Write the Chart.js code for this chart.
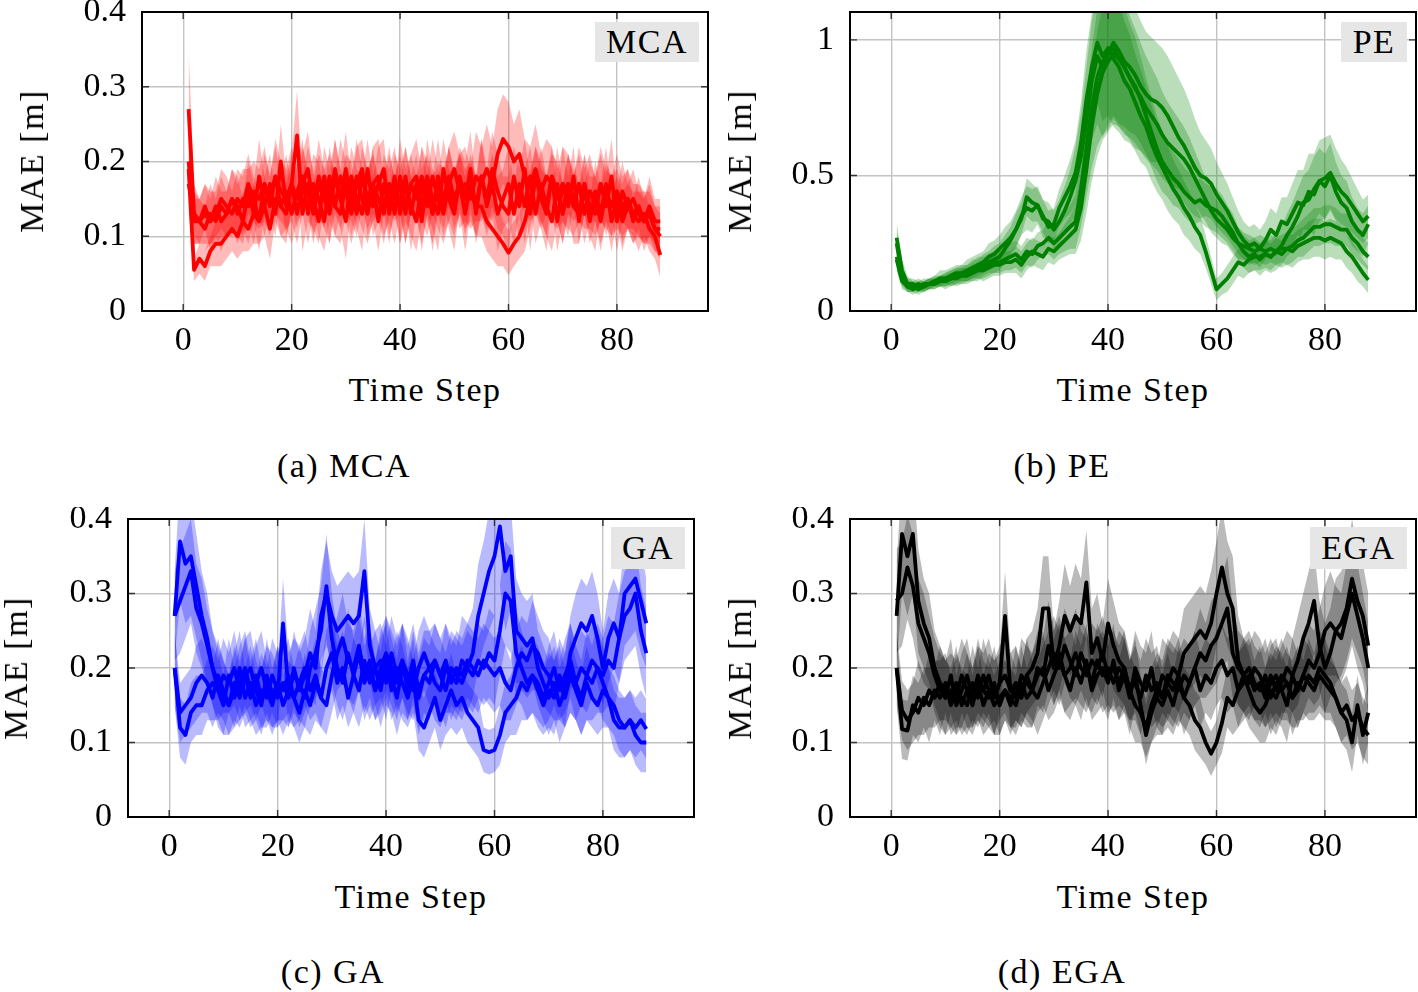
<!DOCTYPE html>
<html>
<head>
<meta charset="utf-8">
<script src="https://cdn.jsdelivr.net/npm/chart.js@4.4.1/dist/chart.umd.min.js"></script>
<style>
  body { margin: 0; background: #fff; width: 1418px; height: 992px; position: relative; overflow: hidden; font-family: "Liberation Serif", "Times New Roman", serif; }
  canvas { position: absolute; }
  .txt { position: absolute; transform: translate(-50%, -50%); white-space: nowrap; font-size: 34px; line-height: 1; color: #000; letter-spacing: 1.5px; }
  .ylab { transform: translate(-50%, -50%) rotate(-90deg); }
  .tag { position: absolute; background: #e6e6e6; font-size: 34px; line-height: 1; letter-spacing: 1.5px; display: flex; align-items: center; justify-content: center; }
</style>
</head>
<body>
<canvas id="cA" width="720" height="370" style="left:0;top:0"></canvas>
<canvas id="cB" width="698" height="370" style="left:720px;top:0"></canvas>
<canvas id="cC" width="720" height="370" style="left:0;top:507px"></canvas>
<canvas id="cD" width="698" height="370" style="left:720px;top:507px"></canvas>

<div class="txt ylab" style="left:32px;top:161px">MAE [m]</div>
<div class="txt ylab" style="left:740px;top:161px">MAE [m]</div>
<div class="txt ylab" style="left:16px;top:668px">MAE [m]</div>
<div class="txt ylab" style="left:740px;top:668px">MAE [m]</div>

<div class="txt" style="left:425px;top:390px">Time Step</div>
<div class="txt" style="left:1133px;top:390px">Time Step</div>
<div class="txt" style="left:411px;top:897px">Time Step</div>
<div class="txt" style="left:1133px;top:897px">Time Step</div>

<div class="txt" style="left:344px;top:466px">(a) MCA</div>
<div class="txt" style="left:1062px;top:466px">(b) PE</div>
<div class="txt" style="left:333px;top:972px">(c) GA</div>
<div class="txt" style="left:1062px;top:972px">(d) EGA</div>

<div class="tag" style="left:595px;top:22px;width:104px;height:40px">MCA</div>
<div class="tag" style="left:1341px;top:22px;width:66px;height:40px">PE</div>
<div class="tag" style="left:611px;top:527px;width:74px;height:42px">GA</div>
<div class="tag" style="left:1310px;top:527px;width:97px;height:42px">EGA</div>

<script>
// ---- MCA (a): four runs, mean MAE and spread per time step ----
const MCA_A = [
  0.27, 0.13, 0.12, 0.11, 0.13, 0.12, 0.14, 0.13, 0.15, 0.14,
  0.12, 0.16, 0.13, 0.18, 0.14, 0.17, 0.13, 0.2, 0.14, 0.17,
  0.235, 0.13, 0.17, 0.15, 0.12, 0.18, 0.14, 0.19, 0.15, 0.12,
  0.18, 0.15, 0.13, 0.19, 0.14, 0.17, 0.19, 0.13, 0.17, 0.14,
  0.18, 0.13, 0.17, 0.12, 0.18, 0.15, 0.13, 0.19, 0.15, 0.13,
  0.18, 0.15, 0.19, 0.13, 0.18, 0.15, 0.19, 0.16, 0.14, 0.13,
  0.18, 0.14, 0.19, 0.13, 0.18, 0.15, 0.13, 0.18, 0.12, 0.17,
  0.14, 0.18, 0.12, 0.17, 0.14, 0.13, 0.17, 0.14, 0.18, 0.12,
  0.16, 0.14, 0.15, 0.13, 0.12, 0.14, 0.12, 0.12
]
const MCA_B = [
  0.19, 0.055, 0.07, 0.06, 0.08, 0.09, 0.09, 0.1, 0.11, 0.1,
  0.12, 0.11, 0.13, 0.12, 0.14, 0.11, 0.15, 0.14, 0.16, 0.13,
  0.16, 0.18, 0.13, 0.17, 0.15, 0.12, 0.17, 0.14, 0.18, 0.16,
  0.13, 0.17, 0.19, 0.14, 0.17, 0.12, 0.17, 0.14, 0.18, 0.13,
  0.17, 0.14, 0.12, 0.17, 0.14, 0.18, 0.15, 0.13, 0.17, 0.14,
  0.17, 0.13, 0.17, 0.14, 0.18, 0.14, 0.17, 0.13, 0.15, 0.17,
  0.13, 0.17, 0.14, 0.18, 0.13, 0.17, 0.14, 0.12, 0.17, 0.13,
  0.17, 0.14, 0.13, 0.17, 0.12, 0.16, 0.13, 0.17, 0.12, 0.15,
  0.12, 0.14, 0.13, 0.12, 0.13, 0.11, 0.1, 0.075
]
const MCA_C = [
  0.2, 0.12, 0.12, 0.13, 0.12, 0.14, 0.12, 0.13, 0.15, 0.13,
  0.15, 0.14, 0.16, 0.15, 0.17, 0.14, 0.18, 0.16, 0.15, 0.17,
  0.13, 0.17, 0.19, 0.14, 0.18, 0.15, 0.13, 0.18, 0.15, 0.19,
  0.14, 0.18, 0.15, 0.13, 0.17, 0.18, 0.14, 0.17, 0.13, 0.18,
  0.14, 0.17, 0.18, 0.14, 0.17, 0.13, 0.18, 0.14, 0.17, 0.19,
  0.16, 0.17, 0.15, 0.18, 0.17, 0.19, 0.17, 0.21, 0.23, 0.22,
  0.2, 0.21, 0.18, 0.17, 0.19, 0.16, 0.18, 0.17, 0.15, 0.17,
  0.16, 0.14, 0.17, 0.15, 0.16, 0.14, 0.17, 0.15, 0.14, 0.16,
  0.14, 0.15, 0.13, 0.14, 0.12, 0.13, 0.11, 0.1
]
const MCA_D = [
  0.17, 0.13, 0.12, 0.14, 0.12, 0.13, 0.15, 0.14, 0.13, 0.15,
  0.14, 0.17, 0.15, 0.12, 0.17, 0.15, 0.18, 0.14, 0.13, 0.17,
  0.15, 0.18, 0.16, 0.13, 0.17, 0.15, 0.18, 0.14, 0.13, 0.17,
  0.16, 0.13, 0.18, 0.15, 0.17, 0.15, 0.13, 0.17, 0.15, 0.17,
  0.13, 0.17, 0.15, 0.18, 0.16, 0.13, 0.17, 0.15, 0.18, 0.15,
  0.17, 0.15, 0.16, 0.14, 0.14, 0.12, 0.11, 0.1, 0.09, 0.078,
  0.09, 0.1, 0.12, 0.15, 0.18, 0.16, 0.14, 0.18, 0.16, 0.13,
  0.17, 0.15, 0.17, 0.13, 0.16, 0.15, 0.12, 0.16, 0.14, 0.16,
  0.13, 0.15, 0.12, 0.14, 0.12, 0.13, 0.11, 0.11
]
const MCA_SD_A = [
  0.08, 0.04, 0.03, 0.03, 0.04, 0.03, 0.04, 0.03, 0.04, 0.04,
  0.03, 0.04, 0.04, 0.05, 0.04, 0.04, 0.03, 0.05, 0.04, 0.04,
  0.06, 0.05, 0.05, 0.04, 0.03, 0.04, 0.05, 0.04, 0.04, 0.05,
  0.04, 0.04, 0.05, 0.04, 0.04, 0.05, 0.04, 0.03, 0.04, 0.05,
  0.04, 0.05, 0.04, 0.04, 0.05, 0.04, 0.05, 0.04, 0.04, 0.05,
  0.04, 0.05, 0.05, 0.04, 0.05, 0.04, 0.05, 0.05, 0.04, 0.05,
  0.04, 0.05, 0.04, 0.05, 0.04, 0.04, 0.05, 0.04, 0.04, 0.05,
  0.04, 0.04, 0.03, 0.04, 0.04, 0.05, 0.04, 0.04, 0.05, 0.04,
  0.04, 0.03, 0.04, 0.03, 0.03, 0.04, 0.03, 0.03
]
const MCA_SD_B = [
  0.05, 0.015, 0.02, 0.02, 0.02, 0.03, 0.03, 0.03, 0.03, 0.03,
  0.04, 0.03, 0.04, 0.03, 0.04, 0.04, 0.03, 0.04, 0.05, 0.04,
  0.04, 0.05, 0.04, 0.04, 0.05, 0.04, 0.05, 0.04, 0.05, 0.04,
  0.04, 0.05, 0.04, 0.04, 0.05, 0.04, 0.04, 0.05, 0.04, 0.04,
  0.05, 0.04, 0.04, 0.05, 0.04, 0.05, 0.04, 0.04, 0.05, 0.04,
  0.04, 0.05, 0.04, 0.04, 0.05, 0.04, 0.04, 0.05, 0.04, 0.05,
  0.04, 0.04, 0.05, 0.04, 0.04, 0.05, 0.04, 0.04, 0.05, 0.04,
  0.04, 0.05, 0.04, 0.04, 0.03, 0.04, 0.04, 0.05, 0.04, 0.03,
  0.04, 0.03, 0.03, 0.04, 0.03, 0.03, 0.03, 0.03
]
const MCA_SD_C = [
  0.04, 0.03, 0.03, 0.04, 0.03, 0.04, 0.04, 0.03, 0.04, 0.04,
  0.04, 0.05, 0.04, 0.04, 0.05, 0.04, 0.05, 0.04, 0.04, 0.05,
  0.04, 0.04, 0.05, 0.04, 0.05, 0.04, 0.04, 0.05, 0.04, 0.05,
  0.04, 0.05, 0.04, 0.04, 0.05, 0.05, 0.04, 0.05, 0.04, 0.05,
  0.05, 0.04, 0.05, 0.05, 0.04, 0.05, 0.05, 0.04, 0.05, 0.05,
  0.05, 0.05, 0.04, 0.06, 0.05, 0.06, 0.05, 0.06, 0.06, 0.06,
  0.05, 0.06, 0.05, 0.05, 0.06, 0.05, 0.05, 0.05, 0.04, 0.05,
  0.05, 0.04, 0.05, 0.04, 0.05, 0.04, 0.05, 0.04, 0.04, 0.05,
  0.04, 0.04, 0.04, 0.03, 0.04, 0.03, 0.03, 0.03
]
const MCA_SD_D = [
  0.04, 0.03, 0.03, 0.03, 0.04, 0.03, 0.04, 0.04, 0.03, 0.04,
  0.04, 0.04, 0.03, 0.04, 0.04, 0.03, 0.04, 0.04, 0.04, 0.03,
  0.04, 0.04, 0.03, 0.04, 0.04, 0.04, 0.03, 0.04, 0.04, 0.04,
  0.04, 0.03, 0.04, 0.04, 0.04, 0.03, 0.04, 0.04, 0.03, 0.04,
  0.04, 0.04, 0.03, 0.04, 0.04, 0.04, 0.03, 0.04, 0.04, 0.04,
  0.04, 0.04, 0.04, 0.04, 0.04, 0.04, 0.04, 0.04, 0.03, 0.03,
  0.03, 0.03, 0.04, 0.04, 0.04, 0.04, 0.04, 0.03, 0.04, 0.04,
  0.04, 0.03, 0.04, 0.04, 0.04, 0.03, 0.04, 0.04, 0.04, 0.03,
  0.04, 0.04, 0.03, 0.04, 0.03, 0.04, 0.03, 0.03
]

// ---- PE (b) ----
const PE_A = [
  0.27, 0.15, 0.1, 0.09, 0.08, 0.09, 0.1, 0.1, 0.11, 0.11,
  0.12, 0.13, 0.13, 0.14, 0.15, 0.15, 0.17, 0.18, 0.19, 0.2,
  0.23, 0.26, 0.3, 0.34, 0.42, 0.4, 0.39, 0.35, 0.31, 0.32,
  0.38, 0.42, 0.46, 0.51, 0.62, 0.78, 0.9, 0.99, 0.94, 0.97,
  0.93, 0.9, 0.85, 0.82, 0.77, 0.72, 0.68, 0.62, 0.57, 0.53,
  0.49, 0.45, 0.42, 0.38, 0.35, 0.31, 0.28, 0.22, 0.15, 0.08,
  0.1, 0.12, 0.15, 0.18, 0.17, 0.19, 0.2, 0.2, 0.21, 0.2,
  0.22, 0.21, 0.23, 0.22, 0.24, 0.25, 0.26, 0.27, 0.27, 0.26,
  0.27, 0.26, 0.25, 0.22, 0.2, 0.17, 0.14, 0.115
]
const PE_B = [
  0.25, 0.13, 0.1, 0.1, 0.09, 0.1, 0.1, 0.11, 0.12, 0.12,
  0.13, 0.14, 0.14, 0.15, 0.16, 0.17, 0.18, 0.2, 0.21, 0.23,
  0.25, 0.27, 0.3, 0.35, 0.38, 0.37, 0.39, 0.34, 0.33, 0.3,
  0.33, 0.37, 0.42, 0.48, 0.57, 0.7, 0.85, 0.94, 0.9, 0.95,
  0.97, 0.93, 0.9, 0.86, 0.83, 0.78, 0.72, 0.66, 0.6, 0.55,
  0.52, 0.49, 0.47, 0.44, 0.42, 0.4, 0.41, 0.39, 0.38, 0.37,
  0.35, 0.32, 0.29, 0.25, 0.22, 0.2, 0.21, 0.19, 0.21, 0.2,
  0.22, 0.24, 0.28, 0.31, 0.35, 0.4, 0.41, 0.45, 0.48, 0.46,
  0.5, 0.44, 0.4, 0.38, 0.33, 0.3, 0.28, 0.32
]
const PE_C = [
  0.2, 0.12, 0.09, 0.09, 0.1, 0.09, 0.1, 0.11, 0.11, 0.12,
  0.12, 0.13, 0.14, 0.14, 0.15, 0.16, 0.16, 0.17, 0.18, 0.18,
  0.19, 0.2, 0.21, 0.19, 0.22, 0.21, 0.24, 0.25, 0.27, 0.25,
  0.27, 0.29, 0.31, 0.33, 0.45, 0.6, 0.75, 0.86, 0.92, 0.95,
  0.99, 0.96, 0.92, 0.9, 0.87, 0.83, 0.8, 0.78, 0.77, 0.75,
  0.72, 0.68, 0.64, 0.61, 0.57, 0.53, 0.5, 0.49, 0.47, 0.43,
  0.4, 0.37, 0.33, 0.29, 0.26, 0.24, 0.25, 0.23, 0.26, 0.3,
  0.28, 0.33, 0.32, 0.36, 0.4, 0.39, 0.44, 0.43, 0.48, 0.49,
  0.51, 0.47, 0.44, 0.42, 0.39, 0.36, 0.33, 0.35
]
const PE_D = [
  0.19, 0.11, 0.09, 0.08, 0.09, 0.09, 0.1, 0.1, 0.11, 0.11,
  0.12, 0.12, 0.13, 0.13, 0.14, 0.15, 0.15, 0.16, 0.17, 0.17,
  0.18, 0.18, 0.19, 0.17, 0.2, 0.22, 0.21, 0.2, 0.23, 0.22,
  0.24, 0.26, 0.28, 0.3, 0.38, 0.52, 0.68, 0.8, 0.88, 0.92,
  0.95, 0.93, 0.9, 0.86, 0.82, 0.79, 0.75, 0.72, 0.69, 0.65,
  0.62, 0.6, 0.58, 0.56, 0.53, 0.49, 0.45, 0.41, 0.37, 0.34,
  0.32, 0.3, 0.27, 0.25, 0.24, 0.23, 0.22, 0.23, 0.22, 0.23,
  0.22, 0.23, 0.23, 0.24, 0.26, 0.27, 0.29, 0.31, 0.31, 0.32,
  0.32, 0.31, 0.3, 0.3, 0.27, 0.25, 0.22, 0.2
]
const PE_SD_A = [
  0.06, 0.04, 0.03, 0.02, 0.02, 0.02, 0.02, 0.02, 0.02, 0.03,
  0.03, 0.03, 0.03, 0.03, 0.04, 0.04, 0.04, 0.04, 0.05, 0.05,
  0.05, 0.05, 0.06, 0.06, 0.07, 0.07, 0.06, 0.06, 0.06, 0.06,
  0.07, 0.08, 0.1, 0.12, 0.15, 0.18, 0.2, 0.22, 0.24, 0.25,
  0.25, 0.24, 0.22, 0.2, 0.18, 0.17, 0.15, 0.14, 0.13, 0.12,
  0.12, 0.11, 0.1, 0.1, 0.09, 0.08, 0.07, 0.06, 0.05, 0.04,
  0.04, 0.05, 0.05, 0.05, 0.05, 0.05, 0.05, 0.05, 0.05, 0.05,
  0.05, 0.05, 0.06, 0.06, 0.06, 0.06, 0.07, 0.07, 0.07, 0.07,
  0.07, 0.07, 0.06, 0.06, 0.06, 0.06, 0.05, 0.05
]
const PE_SD_B = [
  0.05, 0.03, 0.02, 0.02, 0.02, 0.02, 0.02, 0.02, 0.03, 0.03,
  0.03, 0.03, 0.03, 0.04, 0.04, 0.04, 0.04, 0.05, 0.05, 0.05,
  0.06, 0.06, 0.07, 0.07, 0.08, 0.08, 0.07, 0.07, 0.07, 0.07,
  0.08, 0.09, 0.1, 0.13, 0.16, 0.2, 0.22, 0.25, 0.26, 0.26,
  0.25, 0.24, 0.22, 0.2, 0.18, 0.16, 0.14, 0.13, 0.12, 0.11,
  0.1, 0.1, 0.09, 0.09, 0.09, 0.08, 0.08, 0.08, 0.08, 0.08,
  0.08, 0.07, 0.07, 0.06, 0.06, 0.06, 0.06, 0.06, 0.06, 0.06,
  0.07, 0.07, 0.08, 0.09, 0.1, 0.1, 0.11, 0.12, 0.12, 0.12,
  0.12, 0.11, 0.1, 0.1, 0.09, 0.08, 0.08, 0.07
]
const PE_SD_C = [
  0.05, 0.03, 0.02, 0.02, 0.02, 0.02, 0.02, 0.02, 0.02, 0.02,
  0.03, 0.03, 0.03, 0.03, 0.03, 0.04, 0.04, 0.04, 0.04, 0.04,
  0.04, 0.05, 0.05, 0.05, 0.05, 0.05, 0.05, 0.05, 0.06, 0.06,
  0.06, 0.07, 0.08, 0.1, 0.14, 0.18, 0.22, 0.25, 0.27, 0.28,
  0.28, 0.28, 0.27, 0.26, 0.25, 0.24, 0.23, 0.23, 0.22, 0.22,
  0.22, 0.22, 0.22, 0.21, 0.2, 0.18, 0.16, 0.14, 0.13, 0.12,
  0.11, 0.1, 0.09, 0.08, 0.07, 0.07, 0.07, 0.07, 0.07, 0.08,
  0.08, 0.09, 0.1, 0.11, 0.12, 0.13, 0.14, 0.15, 0.15, 0.15,
  0.14, 0.13, 0.12, 0.11, 0.1, 0.09, 0.08, 0.08
]
const PE_SD_D = [
  0.04, 0.03, 0.02, 0.02, 0.02, 0.02, 0.02, 0.02, 0.02, 0.02,
  0.02, 0.03, 0.03, 0.03, 0.03, 0.03, 0.04, 0.04, 0.04, 0.04,
  0.04, 0.04, 0.05, 0.05, 0.05, 0.05, 0.05, 0.05, 0.05, 0.05,
  0.05, 0.06, 0.07, 0.09, 0.12, 0.16, 0.2, 0.23, 0.25, 0.26,
  0.26, 0.25, 0.24, 0.23, 0.22, 0.2, 0.19, 0.18, 0.17, 0.16,
  0.15, 0.14, 0.13, 0.12, 0.11, 0.1, 0.09, 0.08, 0.08, 0.07,
  0.07, 0.06, 0.06, 0.06, 0.05, 0.05, 0.05, 0.05, 0.05, 0.05,
  0.05, 0.05, 0.06, 0.06, 0.06, 0.07, 0.07, 0.07, 0.07, 0.07,
  0.07, 0.07, 0.06, 0.06, 0.06, 0.06, 0.05, 0.05
]

// ---- GA (c) ----
const GA_A = [
  0.27, 0.37, 0.34, 0.35, 0.31, 0.27, 0.24, 0.2, 0.17, 0.15,
  0.19, 0.16, 0.18, 0.2, 0.17, 0.19, 0.16, 0.18, 0.17, 0.16,
  0.26, 0.17, 0.19, 0.18, 0.16, 0.2, 0.22, 0.25, 0.31, 0.24,
  0.2, 0.18, 0.22, 0.19, 0.17, 0.21, 0.18, 0.2, 0.17, 0.21,
  0.19, 0.16, 0.2, 0.18, 0.21, 0.17, 0.19, 0.2, 0.18, 0.17,
  0.2, 0.19, 0.18, 0.21, 0.2, 0.22, 0.27, 0.3, 0.33, 0.35,
  0.39, 0.33, 0.35, 0.25, 0.24, 0.23, 0.24, 0.2, 0.18, 0.16,
  0.18, 0.15, 0.17, 0.2, 0.18, 0.16, 0.19, 0.18, 0.2, 0.19,
  0.21, 0.2, 0.24, 0.3, 0.31, 0.32, 0.29, 0.26
]
const GA_B = [
  0.27, 0.29, 0.31, 0.33, 0.28, 0.26, 0.23, 0.2, 0.18, 0.16,
  0.15, 0.17, 0.2, 0.16, 0.18, 0.15, 0.17, 0.16, 0.19, 0.17,
  0.18, 0.16, 0.2, 0.17, 0.19, 0.22, 0.2, 0.27, 0.3, 0.27,
  0.25, 0.26, 0.27, 0.26, 0.27, 0.33, 0.23, 0.2, 0.21, 0.18,
  0.22, 0.19, 0.21, 0.17, 0.2, 0.16, 0.19, 0.18, 0.21, 0.19,
  0.17, 0.2, 0.19, 0.18, 0.2, 0.19, 0.21, 0.2, 0.22, 0.21,
  0.25, 0.3, 0.29, 0.22, 0.2, 0.18, 0.19, 0.17, 0.15, 0.17,
  0.16, 0.19, 0.17, 0.22, 0.24, 0.26, 0.25, 0.27, 0.24, 0.2,
  0.24, 0.26, 0.24, 0.27, 0.28, 0.3, 0.25, 0.22
]
const GA_C = [
  0.2, 0.12, 0.11, 0.14, 0.15, 0.15, 0.17, 0.18, 0.17, 0.19,
  0.18, 0.2, 0.17, 0.19, 0.16, 0.18, 0.2, 0.17, 0.15, 0.18,
  0.17, 0.19, 0.16, 0.18, 0.2, 0.17, 0.19, 0.16, 0.2, 0.22,
  0.18, 0.2, 0.16, 0.19, 0.22, 0.18, 0.2, 0.17, 0.19, 0.21,
  0.17, 0.2, 0.18, 0.16, 0.19, 0.13, 0.12, 0.14, 0.16, 0.13,
  0.15, 0.17, 0.15, 0.16, 0.14, 0.13, 0.12, 0.09, 0.087, 0.09,
  0.11, 0.14, 0.15, 0.16, 0.18, 0.17, 0.19, 0.18, 0.16, 0.18,
  0.2, 0.17, 0.19, 0.21, 0.18, 0.2, 0.19, 0.21, 0.2, 0.18,
  0.16, 0.15, 0.13, 0.12, 0.13, 0.12, 0.13, 0.118
]
const GA_D = [
  0.2, 0.14, 0.15, 0.16, 0.18, 0.19, 0.18, 0.16, 0.19, 0.17,
  0.15, 0.18, 0.16, 0.19, 0.2, 0.17, 0.15, 0.19, 0.16, 0.18,
  0.15, 0.17, 0.16, 0.14, 0.17, 0.15, 0.18, 0.16, 0.15, 0.19,
  0.22, 0.24, 0.21, 0.2, 0.23, 0.19, 0.21, 0.17, 0.2, 0.22,
  0.2, 0.18, 0.21, 0.19, 0.17, 0.2, 0.22, 0.2, 0.21, 0.19,
  0.21, 0.18, 0.2, 0.19, 0.21, 0.2, 0.19, 0.21, 0.2, 0.19,
  0.2, 0.18, 0.17, 0.2, 0.22, 0.21, 0.23, 0.22, 0.2, 0.19,
  0.17, 0.18, 0.16, 0.19, 0.17, 0.15, 0.18, 0.16, 0.15, 0.17,
  0.16, 0.13, 0.12, 0.12, 0.13, 0.11, 0.1, 0.1
]
const GA_SD_A = [
  0.06, 0.08, 0.08, 0.08, 0.07, 0.06, 0.06, 0.05, 0.05, 0.04,
  0.05, 0.04, 0.05, 0.05, 0.04, 0.05, 0.04, 0.05, 0.05, 0.04,
  0.06, 0.05, 0.05, 0.05, 0.04, 0.05, 0.06, 0.06, 0.07, 0.06,
  0.05, 0.05, 0.06, 0.05, 0.05, 0.06, 0.05, 0.05, 0.05, 0.06,
  0.05, 0.05, 0.06, 0.05, 0.05, 0.05, 0.06, 0.05, 0.05, 0.05,
  0.06, 0.05, 0.05, 0.06, 0.06, 0.06, 0.07, 0.07, 0.08, 0.08,
  0.08, 0.08, 0.07, 0.07, 0.06, 0.06, 0.06, 0.05, 0.05, 0.05,
  0.05, 0.05, 0.05, 0.06, 0.05, 0.05, 0.06, 0.05, 0.06, 0.05,
  0.06, 0.06, 0.06, 0.07, 0.07, 0.07, 0.07, 0.06
]
const GA_SD_B = [
  0.06, 0.07, 0.07, 0.07, 0.06, 0.06, 0.05, 0.05, 0.05, 0.05,
  0.04, 0.05, 0.05, 0.04, 0.05, 0.04, 0.05, 0.04, 0.05, 0.05,
  0.05, 0.04, 0.05, 0.05, 0.05, 0.06, 0.05, 0.06, 0.07, 0.06,
  0.06, 0.06, 0.06, 0.06, 0.06, 0.07, 0.05, 0.05, 0.05, 0.05,
  0.05, 0.05, 0.05, 0.04, 0.05, 0.05, 0.05, 0.05, 0.05, 0.05,
  0.05, 0.05, 0.05, 0.05, 0.05, 0.05, 0.05, 0.05, 0.06, 0.06,
  0.06, 0.07, 0.07, 0.06, 0.05, 0.05, 0.05, 0.05, 0.04, 0.05,
  0.05, 0.05, 0.05, 0.05, 0.06, 0.06, 0.06, 0.06, 0.06, 0.05,
  0.06, 0.06, 0.06, 0.06, 0.06, 0.07, 0.06, 0.06
]
const GA_SD_C = [
  0.05, 0.04, 0.04, 0.04, 0.04, 0.04, 0.04, 0.05, 0.04, 0.05,
  0.04, 0.05, 0.04, 0.05, 0.04, 0.05, 0.05, 0.04, 0.04, 0.05,
  0.04, 0.05, 0.04, 0.05, 0.05, 0.04, 0.05, 0.04, 0.05, 0.05,
  0.05, 0.05, 0.04, 0.05, 0.05, 0.05, 0.05, 0.04, 0.05, 0.05,
  0.04, 0.05, 0.05, 0.04, 0.05, 0.04, 0.04, 0.04, 0.04, 0.04,
  0.04, 0.05, 0.04, 0.04, 0.04, 0.04, 0.04, 0.03, 0.03, 0.03,
  0.04, 0.04, 0.04, 0.05, 0.05, 0.04, 0.05, 0.05, 0.04, 0.05,
  0.05, 0.04, 0.05, 0.05, 0.05, 0.05, 0.05, 0.05, 0.05, 0.05,
  0.04, 0.04, 0.04, 0.04, 0.04, 0.04, 0.04, 0.04
]
const GA_SD_D = [
  0.05, 0.04, 0.04, 0.04, 0.05, 0.05, 0.04, 0.04, 0.05, 0.04,
  0.04, 0.05, 0.04, 0.05, 0.05, 0.04, 0.04, 0.05, 0.04, 0.05,
  0.04, 0.04, 0.04, 0.04, 0.05, 0.04, 0.05, 0.04, 0.04, 0.05,
  0.05, 0.06, 0.05, 0.05, 0.06, 0.05, 0.05, 0.04, 0.05, 0.05,
  0.05, 0.05, 0.05, 0.05, 0.04, 0.05, 0.05, 0.05, 0.05, 0.05,
  0.05, 0.05, 0.05, 0.05, 0.05, 0.05, 0.05, 0.05, 0.05, 0.05,
  0.05, 0.05, 0.04, 0.05, 0.05, 0.05, 0.06, 0.05, 0.05, 0.05,
  0.04, 0.05, 0.04, 0.05, 0.04, 0.04, 0.05, 0.04, 0.04, 0.05,
  0.04, 0.04, 0.04, 0.04, 0.04, 0.04, 0.04, 0.04
]

// ---- EGA (d) ----
const EGA_A = [
  0.27, 0.38, 0.35, 0.38, 0.29, 0.26, 0.24, 0.2, 0.18, 0.16,
  0.19, 0.15, 0.17, 0.19, 0.16, 0.18, 0.15, 0.17, 0.16, 0.18,
  0.27, 0.17, 0.18, 0.16, 0.19, 0.2, 0.22, 0.28, 0.28, 0.2,
  0.22, 0.19, 0.17, 0.2, 0.18, 0.21, 0.17, 0.19, 0.2, 0.18,
  0.21, 0.17, 0.19, 0.16, 0.2, 0.18, 0.17, 0.2, 0.16, 0.19,
  0.18, 0.2, 0.19, 0.22, 0.23, 0.24, 0.25, 0.24, 0.26, 0.3,
  0.335, 0.3, 0.28, 0.21, 0.19, 0.2, 0.18, 0.17, 0.19, 0.16,
  0.18, 0.17, 0.15, 0.19, 0.21, 0.24, 0.26, 0.29, 0.23, 0.2,
  0.22, 0.25, 0.26, 0.28, 0.32, 0.29, 0.27, 0.23
]
const EGA_B = [
  0.29, 0.3, 0.335, 0.31, 0.26, 0.24, 0.22, 0.19, 0.17, 0.16,
  0.17, 0.16, 0.19, 0.17, 0.15, 0.18, 0.17, 0.19, 0.16, 0.18,
  0.19, 0.17, 0.16, 0.19, 0.18, 0.17, 0.2, 0.19, 0.23, 0.2,
  0.23, 0.27, 0.25, 0.27, 0.26, 0.315, 0.22, 0.24, 0.21, 0.26,
  0.23, 0.21, 0.2, 0.17, 0.15, 0.14, 0.12, 0.15, 0.17, 0.16,
  0.19, 0.18, 0.17, 0.19, 0.18, 0.2, 0.22, 0.21, 0.23, 0.24,
  0.26, 0.28, 0.22, 0.2, 0.19, 0.17, 0.15, 0.14, 0.15, 0.17,
  0.16, 0.18, 0.2, 0.19, 0.17, 0.19, 0.21, 0.2, 0.22, 0.25,
  0.26, 0.25, 0.24, 0.27, 0.3, 0.27, 0.24, 0.2
]
const EGA_C = [
  0.2, 0.118, 0.116, 0.15, 0.14, 0.16, 0.15, 0.17, 0.16, 0.18,
  0.15, 0.17, 0.16, 0.15, 0.18, 0.16, 0.19, 0.17, 0.15, 0.16,
  0.17, 0.15, 0.18, 0.16, 0.19, 0.17, 0.16, 0.18, 0.2, 0.22,
  0.2, 0.23, 0.21, 0.19, 0.22, 0.2, 0.18, 0.21, 0.19, 0.2,
  0.18, 0.2, 0.19, 0.17, 0.19, 0.15, 0.11, 0.14, 0.16, 0.15,
  0.17, 0.15, 0.18, 0.16, 0.15, 0.13, 0.12, 0.1, 0.085, 0.1,
  0.126, 0.16, 0.15, 0.17, 0.18, 0.19, 0.17, 0.18, 0.16, 0.18,
  0.19, 0.17, 0.18, 0.16, 0.17, 0.19, 0.18, 0.17, 0.19, 0.18,
  0.17, 0.16, 0.14, 0.13, 0.1, 0.15, 0.11, 0.14
]
const EGA_D = [
  0.2, 0.143, 0.13, 0.14, 0.16, 0.15, 0.17, 0.16, 0.18, 0.17,
  0.16, 0.18, 0.15, 0.17, 0.16, 0.19, 0.17, 0.16, 0.18, 0.15,
  0.17, 0.16, 0.15, 0.18, 0.16, 0.17, 0.19, 0.2, 0.17, 0.19,
  0.21, 0.19, 0.2, 0.22, 0.2, 0.19, 0.21, 0.2, 0.22, 0.19,
  0.2, 0.18, 0.2, 0.17, 0.18, 0.16, 0.19, 0.17, 0.18, 0.16,
  0.18, 0.17, 0.19, 0.16, 0.18, 0.2, 0.17, 0.19, 0.18, 0.2,
  0.21, 0.19, 0.2, 0.17, 0.19, 0.18, 0.2, 0.19, 0.17, 0.19,
  0.17, 0.19, 0.18, 0.16, 0.18, 0.17, 0.19, 0.18, 0.2, 0.19,
  0.18, 0.16, 0.14, 0.15, 0.13, 0.14, 0.12, 0.11
]
const EGA_SD_A = [
  0.07, 0.08, 0.08, 0.08, 0.07, 0.06, 0.06, 0.05, 0.05, 0.05,
  0.05, 0.04, 0.05, 0.05, 0.04, 0.05, 0.04, 0.05, 0.05, 0.04,
  0.06, 0.05, 0.05, 0.04, 0.05, 0.05, 0.06, 0.07, 0.07, 0.05,
  0.05, 0.05, 0.04, 0.05, 0.05, 0.05, 0.04, 0.05, 0.05, 0.05,
  0.05, 0.04, 0.05, 0.05, 0.05, 0.05, 0.05, 0.05, 0.04, 0.05,
  0.05, 0.05, 0.05, 0.06, 0.06, 0.06, 0.06, 0.06, 0.07, 0.07,
  0.08, 0.07, 0.07, 0.06, 0.05, 0.05, 0.05, 0.05, 0.05, 0.05,
  0.05, 0.05, 0.05, 0.05, 0.06, 0.06, 0.07, 0.07, 0.06, 0.06,
  0.06, 0.07, 0.07, 0.07, 0.08, 0.07, 0.07, 0.07
]
const EGA_SD_B = [
  0.07, 0.07, 0.07, 0.07, 0.06, 0.06, 0.05, 0.05, 0.05, 0.05,
  0.05, 0.05, 0.05, 0.05, 0.04, 0.05, 0.05, 0.05, 0.05, 0.05,
  0.05, 0.05, 0.04, 0.05, 0.05, 0.05, 0.05, 0.05, 0.06, 0.05,
  0.06, 0.07, 0.06, 0.07, 0.06, 0.07, 0.06, 0.06, 0.05, 0.06,
  0.06, 0.05, 0.05, 0.05, 0.05, 0.04, 0.04, 0.05, 0.05, 0.05,
  0.05, 0.05, 0.05, 0.05, 0.05, 0.05, 0.06, 0.05, 0.06, 0.06,
  0.06, 0.07, 0.06, 0.05, 0.05, 0.05, 0.04, 0.04, 0.05, 0.05,
  0.05, 0.05, 0.05, 0.05, 0.05, 0.05, 0.05, 0.05, 0.06, 0.06,
  0.07, 0.06, 0.06, 0.07, 0.07, 0.07, 0.06, 0.06
]
const EGA_SD_C = [
  0.05, 0.04, 0.04, 0.04, 0.04, 0.04, 0.05, 0.04, 0.05, 0.04,
  0.04, 0.05, 0.04, 0.04, 0.05, 0.04, 0.05, 0.04, 0.04, 0.05,
  0.04, 0.04, 0.05, 0.04, 0.05, 0.04, 0.05, 0.05, 0.05, 0.05,
  0.05, 0.05, 0.05, 0.04, 0.05, 0.05, 0.04, 0.05, 0.05, 0.05,
  0.04, 0.05, 0.05, 0.04, 0.05, 0.04, 0.04, 0.04, 0.05, 0.04,
  0.05, 0.04, 0.05, 0.04, 0.04, 0.04, 0.04, 0.03, 0.03, 0.03,
  0.04, 0.04, 0.04, 0.05, 0.05, 0.05, 0.04, 0.05, 0.04, 0.05,
  0.05, 0.04, 0.05, 0.04, 0.05, 0.05, 0.05, 0.04, 0.05, 0.05,
  0.04, 0.04, 0.04, 0.04, 0.04, 0.04, 0.04, 0.04
]
const EGA_SD_D = [
  0.05, 0.04, 0.04, 0.04, 0.05, 0.04, 0.05, 0.04, 0.05, 0.04,
  0.04, 0.05, 0.04, 0.05, 0.04, 0.05, 0.04, 0.04, 0.05, 0.04,
  0.04, 0.04, 0.04, 0.05, 0.04, 0.05, 0.05, 0.05, 0.04, 0.05,
  0.05, 0.05, 0.05, 0.06, 0.05, 0.05, 0.05, 0.05, 0.05, 0.05,
  0.05, 0.05, 0.05, 0.04, 0.05, 0.05, 0.05, 0.05, 0.05, 0.04,
  0.05, 0.05, 0.05, 0.05, 0.05, 0.05, 0.05, 0.05, 0.05, 0.05,
  0.05, 0.05, 0.05, 0.05, 0.05, 0.05, 0.05, 0.05, 0.05, 0.05,
  0.05, 0.05, 0.04, 0.05, 0.05, 0.04, 0.05, 0.04, 0.05, 0.05,
  0.04, 0.04, 0.04, 0.04, 0.04, 0.04, 0.04, 0.04
]

const X_TICKS = [0, 20, 40, 60, 80]
const Y_TICKS = [0, 0.1, 0.2, 0.3, 0.4]
const Y_TICKS_PE = [0, 0.5, 1]

const STEPS = MCA_A.map((_, i) => i + 1)

const FONT = { family: "'Liberation Serif', 'Times New Roman', serif", size: 34 }

const PANELS = [
  { canvas: "cA", rgb: "255, 0, 0", means: [MCA_A, MCA_B, MCA_C, MCA_D], sds: [MCA_SD_A, MCA_SD_B, MCA_SD_C, MCA_SD_D],
    yMax: 0.4, yTicks: Y_TICKS, yWidth: 142, xHeight: 59, pad: { top: 12, right: 12, left: 0, bottom: 0 } },
  { canvas: "cB", rgb: "0, 128, 0", means: [PE_A, PE_B, PE_C, PE_D], sds: [PE_SD_A, PE_SD_B, PE_SD_C, PE_SD_D],
    yMax: 1.103, yTicks: Y_TICKS_PE, yWidth: 130, xHeight: 59, pad: { top: 12, right: 2, left: 0, bottom: 0 } },
  { canvas: "cC", rgb: "0, 0, 255", means: [GA_A, GA_B, GA_C, GA_D], sds: [GA_SD_A, GA_SD_B, GA_SD_C, GA_SD_D],
    yMax: 0.4, yTicks: Y_TICKS, yWidth: 128, xHeight: 60, pad: { top: 12, right: 26, left: 0, bottom: 0 } },
  { canvas: "cD", rgb: "0, 0, 0", means: [EGA_A, EGA_B, EGA_C, EGA_D], sds: [EGA_SD_A, EGA_SD_B, EGA_SD_C, EGA_SD_D],
    yMax: 0.4, yTicks: Y_TICKS, yWidth: 130, xHeight: 60, pad: { top: 12, right: 2, left: 0, bottom: 0 } }
]

// frame around the axis plus small tick marks pointing inwards
const framePlugin = {
  id: "frame",
  afterDatasetsDraw(chart) {
    const { ctx, chartArea: a, scales } = chart
    ctx.save()
    ctx.strokeStyle = "#333"
    ctx.lineWidth = 1.4
    ctx.beginPath()
    scales.x.ticks.forEach((t) => {
      const x = scales.x.getPixelForValue(t.value)
      ctx.moveTo(x, a.bottom); ctx.lineTo(x, a.bottom - 7)
      ctx.moveTo(x, a.top); ctx.lineTo(x, a.top + 7)
    })
    scales.y.ticks.forEach((t) => {
      const y = scales.y.getPixelForValue(t.value)
      ctx.moveTo(a.left, y); ctx.lineTo(a.left + 7, y)
      ctx.moveTo(a.right, y); ctx.lineTo(a.right - 7, y)
    })
    ctx.stroke()
    ctx.strokeStyle = "#000"
    ctx.lineWidth = 2
    ctx.strokeRect(a.left, a.top, a.width, a.height)
    ctx.restore()
  }
}

function buildDatasets(p) {
  const sets = []
  p.means.forEach((m, k) => {
    const sd = p.sds[k]
    sets.push({
      data: STEPS.map((t, i) => ({ x: t, y: m[i] + sd[i] })),
      borderWidth: 0, borderColor: "rgba(0,0,0,0)", pointRadius: 0, fill: false, order: 2
    })
    sets.push({
      data: STEPS.map((t, i) => ({ x: t, y: m[i] - sd[i] })),
      borderWidth: 0, borderColor: "rgba(0,0,0,0)", pointRadius: 0, fill: "-1",
      backgroundColor: `rgba(${p.rgb}, 0.27)`, order: 2
    })
  })
  p.means.forEach((m) => {
    sets.push({
      data: STEPS.map((t, i) => ({ x: t, y: m[i] })),
      borderColor: `rgb(${p.rgb})`, borderWidth: 3.8, borderJoinStyle: "round",
      pointRadius: 0, fill: false, tension: 0, order: 1
    })
  })
  return sets
}

PANELS.forEach((p) => {
  const ctx = document.getElementById(p.canvas).getContext("2d")
  new Chart(ctx, {
    type: "line",
    data: { datasets: buildDatasets(p) },
    options: {
      responsive: false,
      animation: false,
      layout: { padding: p.pad },
      plugins: { legend: { display: false }, tooltip: { enabled: false } },
      scales: {
        x: {
          type: "linear", min: -7.6, max: 96.8,
          afterBuildTicks: (s) => { s.ticks = X_TICKS.map((v) => ({ value: v })) },
          afterFit: (s) => { s.height = p.xHeight; s.paddingLeft = 0; s.paddingRight = 0 },
          grid: { color: "#c4c4c4", lineWidth: 1.4, drawTicks: false },
          border: { display: false },
          ticks: { font: FONT, color: "#000", padding: 10, maxRotation: 0, callback: (v) => String(v) }
        },
        y: {
          min: 0, max: p.yMax,
          afterBuildTicks: (s) => { s.ticks = p.yTicks.map((v) => ({ value: v })) },
          afterFit: (s) => { s.width = p.yWidth; s.paddingTop = 0; s.paddingBottom = 0 },
          grid: { color: "#c4c4c4", lineWidth: 1.4, drawTicks: false },
          border: { display: false },
          ticks: { font: FONT, color: "#000", padding: 16, callback: (v) => String(v) }
        }
      }
    },
    plugins: [framePlugin]
  })
})
</script>
</body>
</html>
